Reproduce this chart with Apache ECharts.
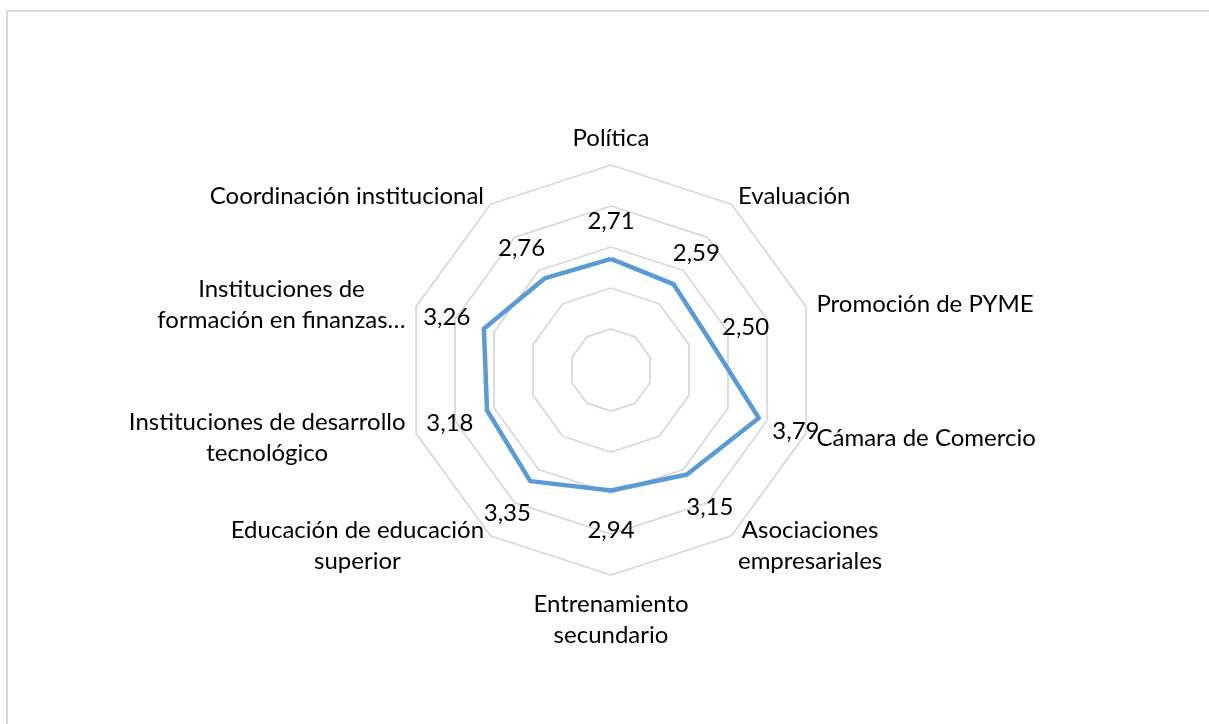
<!DOCTYPE html>
<html>
<head>
<meta charset="utf-8">
<script src="https://cdn.jsdelivr.net/npm/echarts@6/dist/echarts.min.js"></script>
<style>
  html, body { margin: 0; padding: 0; background: #fff; overflow: hidden; }
  #frame { position: absolute; left: 6px; top: 10px; width: 1300px; height: 800px; border: 2px solid #d9d9d9; }
  #main { position: absolute; left: 0; top: 0; width: 1209px; height: 724px; }
</style>
</head>
<body>
<div id="frame"></div>
<div id="main"></div>
<script>
// categories listed clockwise from the top, like the original chart
var categories = [
  'Política',
  'Evaluación',
  'Promoción de PYME',
  'Cámara de Comercio',
  'Asociaciones\nempresariales',
  'Entrenamiento\nsecundario',
  'Educación de educación\nsuperior',
  'Instituciones de desarrollo\ntecnológico',
  'Instituciones de\nformación en finanzas…',
  'Coordinación institucional'
];
var values = [2.71, 2.59, 2.50, 3.79, 3.15, 2.94, 3.35, 3.18, 3.26, 2.76];
var axisMax = 5;
var splitCount = 5;

var FONT = 'Lato, "Liberation Sans", sans-serif';
var FONT_SIZE = 24;
var n = categories.length;

// echarts lays radar indicators out counter-clockwise, so reorder
var order = [0];
for (var i = n - 1; i > 0; i--) order.push(i);
var indicator = order.map(function (i) { return { name: categories[i], max: axisMax, min: 0 }; });
var radarValues = order.map(function (i) { return values[i]; });

function fmt(v) { return v.toFixed(2).replace('.', ','); }

// one invisible copy per vertex so each value label can be pushed outward
function labelSeries(j) {
  var a = (90 + j * 360 / n) * Math.PI / 180;
  var d = 39;
  return {
    type: 'radar',
    silent: true,
    symbol: 'circle',
    symbolSize: 1,
    itemStyle: { color: 'rgba(0,0,0,0)' },
    lineStyle: { width: 0, opacity: 0 },
    emphasis: { disabled: true },
    label: {
      show: true,
      position: 'inside',
      offset: [d * Math.cos(a), -d * Math.sin(a) + 1],
      color: '#000',
      fontSize: FONT_SIZE,
      fontFamily: FONT,
      formatter: function (p) {
        return p.dimensionIndex === j ? fmt(p.value) : '';
      }
    },
    data: [{ value: radarValues }]
  };
}

var series = [{
  type: 'radar',
  silent: true,
  symbol: 'none',
  lineStyle: { color: '#5b9bd5', width: 4.5 },
  emphasis: { disabled: true },
  data: [{ value: radarValues }]
}];
for (var j = 0; j < n; j++) series.push(labelSeries(j));

var myChart = echarts.init(document.getElementById('main'));
var option = {
  animation: false,
  radar: {
    center: [611, 370],
    radius: 205,
    startAngle: 90,
    splitNumber: splitCount,
    shape: 'polygon',
    indicator: indicator,
    axisNameGap: 11,
    axisName: {
      color: '#000',
      fontSize: FONT_SIZE,
      fontFamily: FONT,
      lineHeight: 31,
      padding: [3, 0, 0, 0],
      formatter: function (name) {
        return name.split('\n').map(function (s) { return '{c|' + s + '}'; }).join('\n');
      },
      rich: {
        c: { align: 'center', color: '#000', fontSize: FONT_SIZE, fontFamily: FONT, lineHeight: 31 }
      }
    },
    axisLine: { show: false },
    axisTick: { show: false },
    axisLabel: { show: false },
    splitArea: { show: false },
    splitLine: { lineStyle: { color: '#d9d9d9', width: 1.8 } }
  },
  series: series
};
myChart.setOption(option);
</script>
</body>
</html>
